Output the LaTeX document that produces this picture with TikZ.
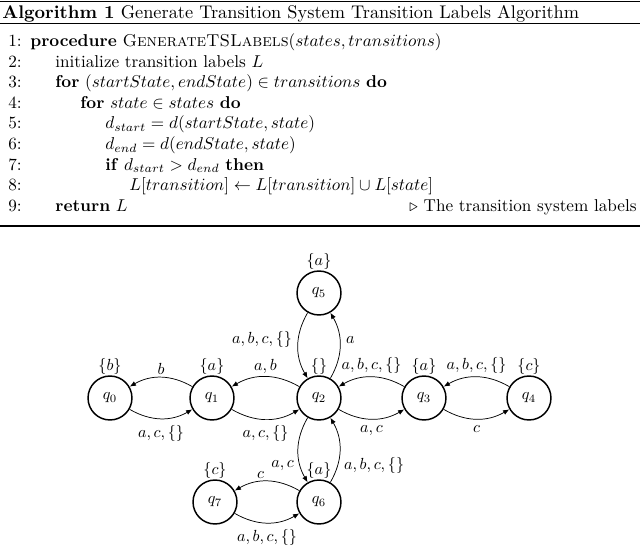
\documentclass[tikz,border=0pt]{standalone}
\usepackage{graphicx}
\usetikzlibrary{arrows.meta}
\newcommand\abd[1]{\scalebox{0.937}{#1}}
\newcommand\tsl[1]{\scalebox{0.879}{#1}}
\begin{document}
\begin{tikzpicture}[x=0.546pt,y=-0.546pt,
  st/.style={circle,draw,line width=0.8pt,minimum size=24pt,inner sep=0pt},
  tr/.style={-{Latex[length=3.4pt,width=2.7pt]},line width=0.4pt,bend right=30},
  abv/.style={above,yshift=-1.8pt},
  ln/.style={anchor=base east,inner sep=0pt},
  tx/.style={anchor=base west,inner sep=0pt},
  rulethick/.style={line width=0.8pt},
  rulethin/.style={line width=0.4pt}]
\useasboundingbox (0,0) rectangle (640,547);
% algorithm box
\draw[rulethick] (0,1.7) -- (640,1.7);
\node[tx] (cap) at (2,18) {\textbf{Algorithm 1} Generate Transition System Transition Labels Algorithm};
\draw[rulethin] (0,23.5) -- (640,23.5);
\node[ln] (n1) at (22,46.5) {\abd{1:}};
\node[ln] (n2) at (22,67.1) {\abd{2:}};
\node[ln] (n3) at (22,87.7) {\abd{3:}};
\node[ln] (n4) at (22,108.3) {\abd{4:}};
\node[ln] (n5) at (22,128.9) {\abd{5:}};
\node[ln] (n6) at (22,149.5) {\abd{6:}};
\node[ln] (n7) at (22,170.1) {\abd{7:}};
\node[ln] (n8) at (22,190.7) {\abd{8:}};
\node[ln] (n9) at (22,211.5) {\abd{9:}};
\node[tx] (l1) at (30,46.5) {\abd{\textbf{procedure} \textsc{GenerateTSLabels}($states, transitions$)}};
\node[tx] (l2) at (55,67.1) {\abd{initialize transition labels $L$}};
\node[tx] (l3) at (55,87.7) {\abd{\textbf{for} $(startState, endState) \in transitions$ \textbf{do}}};
\node[tx] (l4) at (80,108.3) {\abd{\textbf{for} $state \in states$ \textbf{do}}};
\node[tx] (l5) at (105,128.9) {\abd{$d_{start} = d(startState, state)$}};
\node[tx] (l6) at (105,149.5) {\abd{$d_{end} = d(endState, state)$}};
\node[tx] (l7) at (105,170.1) {\abd{\textbf{if} $d_{start} > d_{end}$ \textbf{then}}};
\node[tx] (l8) at (129,190.7) {\abd{$L[transition] \gets L[transition] \cup L[state]$}};
\node[tx] (l9) at (55,211.5) {\abd{\textbf{return} $L$}};
\node[anchor=base east,inner sep=0pt] (c9) at (637,211.5) {\abd{$\triangleright$ The transition system labels}};
\draw[rulethick] (0,226) -- (640,226);
% transition system
\begin{scope}[every label/.style={label distance=-3pt}]
\node[st,label=above:{\tsl{$\{b\}$}}] (q0) at (110,398) {\tsl{$q_0$}};
\node[st,label=above:{\tsl{$\{a\}$}}] (q1) at (212,398) {\tsl{$q_1$}};
\node[st,label=above:{\tsl{$\{\}$}}] (q2) at (319,398) {\tsl{$q_2$}};
\node[st,label=above:{\tsl{$\{a\}$}}] (q3) at (424,398) {\tsl{$q_3$}};
\node[st,label=above:{\tsl{$\{c\}$}}] (q4) at (529,398) {\tsl{$q_4$}};
\node[st,label=above:{\tsl{$\{a\}$}}] (q5) at (319,293) {\tsl{$q_5$}};
\node[st,label=above:{\tsl{$\{a\}$}}] (q6) at (319,502) {\tsl{$q_6$}};
\node[st,label=above:{\tsl{$\{c\}$}}] (q7) at (215,502) {\tsl{$q_7$}};
\draw[tr] (q1) to node[abv] {\tsl{$b$}} (q0);
\draw[tr] (q0) to node[below] {\tsl{$a,c,\{\}$}} (q1);
\draw[tr] (q2) to node[abv] {\tsl{$a,b$}} (q1);
\draw[tr] (q1) to node[below] {\tsl{$a,c,\{\}$}} (q2);
\draw[tr] (q3) to node[abv] {\tsl{$a,b,c,\{\}$}} (q2);
\draw[tr] (q2) to node[below] {\tsl{$a,c$}} (q3);
\draw[tr] (q4) to node[abv] {\tsl{$a,b,c,\{\}$}} (q3);
\draw[tr] (q3) to node[below] {\tsl{$c$}} (q4);
\draw[tr] (q5) to node[left,pos=0.4] {\tsl{$a,b,c,\{\}$}} (q2);
\draw[tr] (q2) to node[right,pos=0.58] {\tsl{$a$}} (q5);
\draw[tr] (q2) to node[left,pos=0.74] {\tsl{$a,c$}} (q6);
\draw[tr] (q6) to node[right,pos=0.26] {\tsl{$a,b,c,\{\}$}} (q2);
\draw[tr] (q6) to node[abv,pos=0.6] {\tsl{$c$}} (q7);
\draw[tr] (q7) to node[below] {\tsl{$a,b,c,\{\}$}} (q6);
\end{scope}
\end{tikzpicture}
\end{document}
